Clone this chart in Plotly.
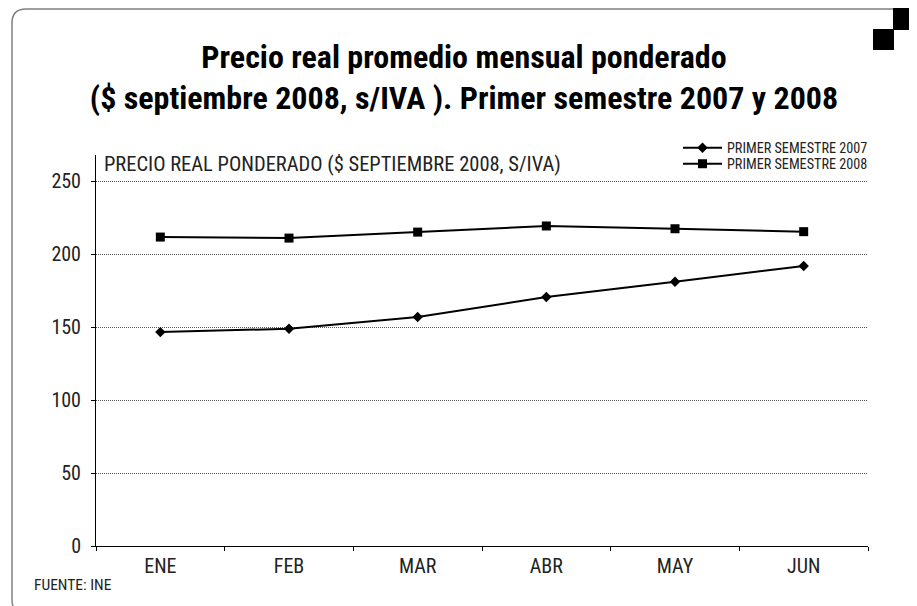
import plotly.graph_objects as go

meses = ["ENE", "FEB", "MAR", "ABR", "MAY", "JUN"]
serie_2007 = [146.5, 148.8, 156.8, 170.5, 181.0, 191.8]
serie_2008 = [211.6, 210.9, 215.0, 219.2, 217.3, 215.3]
nombre_2007 = "PRIMER SEMESTRE 2007"
nombre_2008 = "PRIMER SEMESTRE 2008"
y_ticks = [0, 50, 100, 150, 200, 250]
titulo_1 = "Precio real promedio mensual ponderado"
titulo_2 = "($ septiembre 2008, s/IVA ). Primer semestre 2007 y 2008"
titulo_y = "PRECIO REAL PONDERADO ($ SEPTIEMBRE 2008, S/IVA)"
fuente = "FUENTE: INE"

FONT = "Roboto Condensed, Roboto, sans-serif"
W, H = 917, 606
OFF = 8  # page body margin: figure pixel = screen pixel - OFF
# plot area in screen pixels
L, R, T, B = 96, 868, 155, 546


def px(x):
    return (x - L) / (R - L)


def py(y):
    return (B - y) / (B - T)


fig = go.Figure()
fig.add_trace(go.Scatter(
    x=meses, y=serie_2007, name=nombre_2007, mode="lines+markers",
    line=dict(color="black", width=2),
    marker=dict(symbol="diamond", size=8, color="black"),
    legend="legend",
))
fig.add_trace(go.Scatter(
    x=meses, y=serie_2008, name=nombre_2008, mode="lines+markers",
    line=dict(color="black", width=2),
    marker=dict(symbol="square", size=9, color="black"),
    legend="legend2",
))

# frame with rounded corners
x0, x1, y0, y1, r = px(12), px(912), py(9), py(614), 14
rx, ry = r / (R - L), r / (B - T)
path = (f"M {x0+rx},{y0} L {x1-rx},{y0} Q {x1},{y0} {x1},{y0-ry} "
        f"L {x1},{y1+ry} Q {x1},{y1} {x1-rx},{y1} L {x0+rx},{y1} "
        f"Q {x0},{y1} {x0},{y1+ry} L {x0},{y0-ry} Q {x0},{y0} {x0+rx},{y0} Z")
shapes = [
    dict(type="path", xref="paper", yref="paper", path=path,
         line=dict(color="#808080", width=1.5), layer="below"),
    dict(type="rect", xref="paper", yref="paper", x0=px(893), x1=px(914),
         y0=py(7), y1=py(30), fillcolor="black", line=dict(width=0)),
    dict(type="rect", xref="paper", yref="paper", x0=px(873), x1=px(894),
         y0=py(29), y1=py(50), fillcolor="black", line=dict(width=0)),
]

annotations = [
    dict(text=titulo_y, xref="paper", yref="paper", x=px(102), y=py(164),
         xanchor="left", yanchor="middle", showarrow=False,
         font=dict(family=FONT, size=20.5, color="#222")),
    dict(text=fuente, xref="paper", yref="paper", x=px(32), y=py(585),
         xanchor="left", yanchor="middle", showarrow=False,
         font=dict(family=FONT, size=15.5, color="#222")),
]

leg_common = dict(xanchor="left", yanchor="middle", bgcolor="rgba(0,0,0,0)",
                  borderwidth=0, font=dict(family=FONT, size=14.2, color="#222"),
                  itemwidth=39)

fig.update_layout(
    width=W, height=H,
    margin=dict(l=L - OFF, r=W - (R - OFF), t=T - OFF, b=H - (B - OFF)),
    paper_bgcolor="white", plot_bgcolor="white",
    font=dict(family=FONT, color="#222"),
    title=dict(
        text=f"<b>{titulo_1}<br>{titulo_2}</b>",
        x=(464 - OFF) / W, xanchor="center",
        y=1 - (67.5 - OFF) / H, yanchor="middle",
        font=dict(family=FONT, size=32, color="black"),
    ),
    showlegend=True,
    legend=dict(x=px(678), y=py(148), **leg_common),
    legend2=dict(x=px(678), y=py(164), **leg_common),
    xaxis=dict(
        type="category", showline=True, linecolor="black", linewidth=1,
        ticks="outside", tickson="boundaries", ticklen=4, tickcolor="black",
        showgrid=False, tickfont=dict(family=FONT, size=20, color="#222"),
        range=[-0.5, 5.5], fixedrange=True, ticklabelstandoff=2,
    ),
    yaxis=dict(
        range=[0, (B - T) / 1.46], tickvals=y_ticks, showline=True, linecolor="black",
        linewidth=1, ticks="outside", ticklen=4, tickcolor="black",
        showgrid=True, gridcolor="#555", griddash="1px,1px", gridwidth=1,
        zeroline=False, tickfont=dict(family=FONT, size=20, color="#222"),
        ticklabelstandoff=6,
    ),
    shapes=shapes,
    annotations=annotations,
)

fig.write_html("out.html")
